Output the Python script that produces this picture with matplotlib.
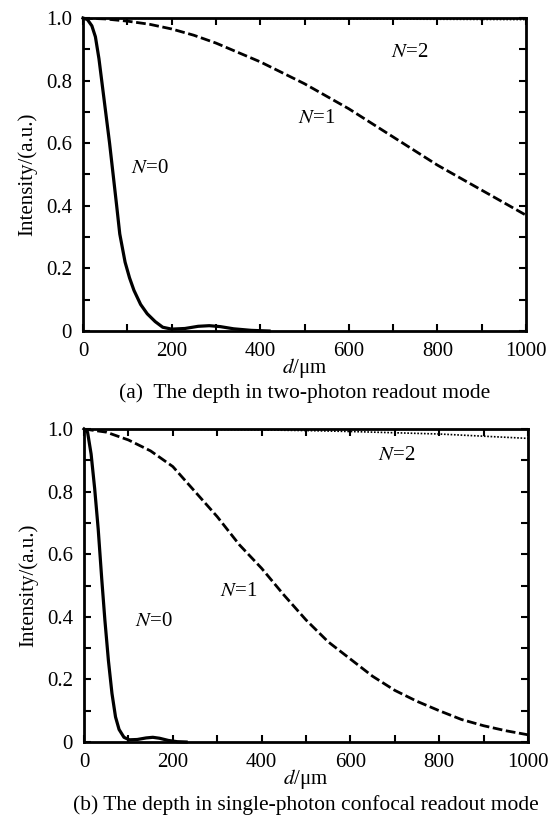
import matplotlib.pyplot as plt
from matplotlib.ticker import MultipleLocator

plt.rcParams['font.family'] = ['Liberation Serif', 'DejaVu Serif']
plt.rcParams['mathtext.fontset'] = 'stix'

# panel (a): two-photon readout
a_n0_d = [0, 10, 20, 28, 36, 44, 52, 60, 68, 76, 83, 95, 105, 115, 130, 145, 163, 180, 200, 230, 260, 285, 310, 340, 380, 420]
a_n0_i = [1.0, 0.995, 0.975, 0.94, 0.87, 0.78, 0.69, 0.60, 0.50, 0.40, 0.31, 0.22, 0.17, 0.13, 0.085, 0.055, 0.03, 0.012, 0.006, 0.008, 0.015, 0.017, 0.014, 0.007, 0.002, 0.0]
a_n1_d = [0, 50, 100, 150, 200, 250, 300, 350, 400, 450, 500, 550, 600, 650, 700, 750, 800, 850, 900, 950, 1000]
a_n1_i = [1.0, 0.997, 0.99, 0.98, 0.965, 0.945, 0.92, 0.89, 0.86, 0.825, 0.79, 0.75, 0.71, 0.665, 0.62, 0.575, 0.53, 0.49, 0.45, 0.41, 0.37]
a_n2_d = [0, 200, 400, 600, 800, 1000]
a_n2_i = [1.0, 0.999, 0.998, 0.997, 0.996, 0.995]

# panel (b): single-photon confocal readout
b_n0_d = [0, 8, 16, 24, 32, 40, 47, 55, 63, 71, 79, 90, 102, 120, 140, 155, 170, 190, 210, 230]
b_n0_i = [1.0, 0.99, 0.92, 0.81, 0.68, 0.52, 0.39, 0.26, 0.155, 0.08, 0.04, 0.015, 0.007, 0.008, 0.013, 0.015, 0.012, 0.005, 0.001, 0.0]
b_n1_d = [0, 50, 100, 150, 200, 250, 300, 350, 400, 450, 500, 550, 600, 650, 700, 750, 800, 850, 900, 950, 1000]
b_n1_i = [1.0, 0.99, 0.965, 0.93, 0.88, 0.80, 0.72, 0.63, 0.555, 0.47, 0.39, 0.32, 0.265, 0.21, 0.165, 0.13, 0.10, 0.072, 0.052, 0.036, 0.023]
b_n2_d = [0, 200, 400, 500, 600, 700, 800, 900, 1000]
b_n2_i = [1.0, 0.999, 0.997, 0.995, 0.992, 0.988, 0.984, 0.977, 0.97]

x_ticks = [0, 200, 400, 600, 800, 1000]
y_ticks = [0, 0.2, 0.4, 0.6, 0.8, 1.0]
y_tick_labels = ['0', '0.2', '0.4', '0.6', '0.8', '1.0']


def draw_panel(ax, n0, n1, n2, labels, caption):
    ax.plot(n0[0], n0[1], color='black', lw=2.3, ls='-', clip_on=False)
    ax.plot(n1[0], n1[1], color='black', lw=2.0, ls=(0, (3.5, 1.3)))
    ax.plot(n2[0], n2[1], color='black', lw=1.2, ls=(0, (1, 1)))
    for (x, y), txt in zip(labels, ['0', '1', '2']):
        ax.text(x, y, '$N$=' + txt, fontsize=15, ha='left', va='center')
    ax.set_xlim(0, 1000)
    ax.set_ylim(0, 1.0)
    ax.set_xticks(x_ticks)
    ax.set_yticks(y_ticks)
    ax.set_yticklabels(y_tick_labels)
    ax.xaxis.set_minor_locator(MultipleLocator(100))
    ax.yaxis.set_minor_locator(MultipleLocator(0.1))
    ax.tick_params(which='both', direction='in', top=True, right=True, width=1.5, length=5, labelsize=15)
    ax.tick_params(axis='x', which='major', pad=8)
    ax.tick_params(axis='y', which='major', pad=8)
    for s in ax.spines.values():
        s.set_linewidth(2)
    ax.set_xlabel('$d$/μm', fontsize=15, labelpad=-4)
    ax.set_ylabel('Intensity/(a.u.)', fontsize=15, labelpad=6)
    ax.text(0.5, -0.20, caption, transform=ax.transAxes, ha='center', va='center', fontsize=15.5)


fig = plt.figure(figsize=(5.5, 8.21), dpi=100)
ax1 = fig.add_axes([83 / 550, 1 - 331 / 821, 443 / 550, 313 / 821])
ax2 = fig.add_axes([84 / 550, 1 - 742 / 821, 444 / 550, 313 / 821])

draw_panel(ax1, (a_n0_d, a_n0_i), (a_n1_d, a_n1_i), (a_n2_d, a_n2_i),
           [(108, 0.52), (486, 0.68), (695, 0.89)],
           '(a)  The depth in two-photon readout mode')
draw_panel(ax2, (b_n0_d, b_n0_i), (b_n1_d, b_n1_i), (b_n2_d, b_n2_i),
           [(114, 0.384), (306, 0.48), (662, 0.915)],
           '(b) The depth in single-photon confocal readout mode')

fig.savefig('out.png', dpi=100)
